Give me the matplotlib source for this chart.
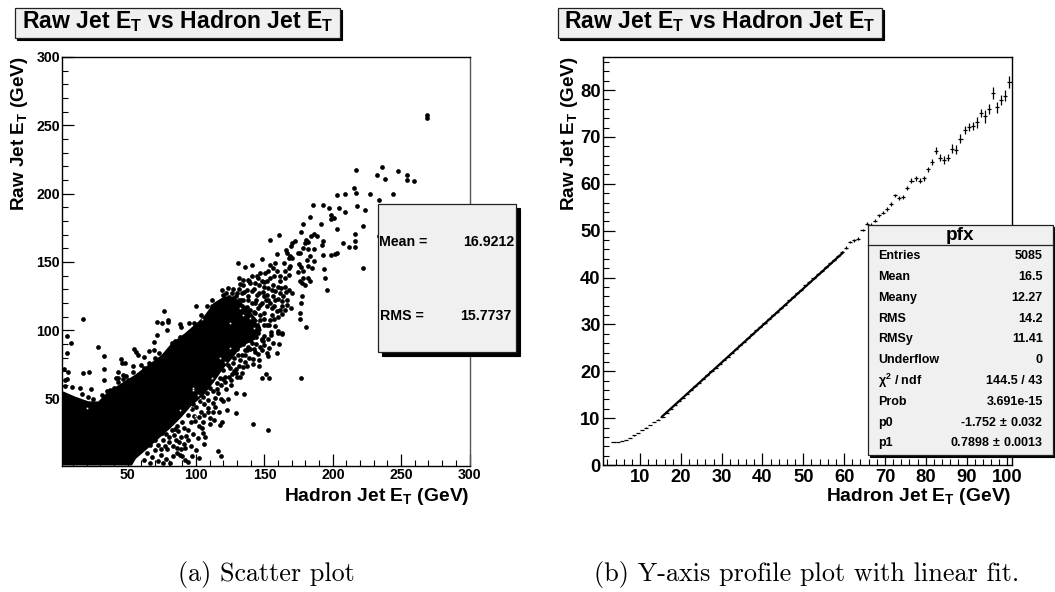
import matplotlib
matplotlib.use("Agg")
import matplotlib.pyplot as plt
from matplotlib.patches import Rectangle

plt.rcParams['font.family'] = ['Liberation Sans', 'DejaVu Sans']
plt.rcParams['font.weight'] = 'bold'
plt.rcParams['mathtext.fontset'] = 'custom'
plt.rcParams['mathtext.rm'] = 'Liberation Sans:bold'
plt.rcParams['mathtext.it'] = 'Liberation Sans:bold:italic'
plt.rcParams['mathtext.bf'] = 'Liberation Sans:bold'
plt.rcParams['mathtext.default'] = 'rm'

title_text = r"Raw Jet E$_{\mathrm{T}}$ vs Hadron Jet E$_{\mathrm{T}}$"
xlabel_text = r"Hadron Jet E$_{\mathrm{T}}$ (GeV)"
ylabel_text = r"Raw Jet E$_{\mathrm{T}}$ (GeV)"

# scatter panel: outline of the solid black mass
mass_outline = [(1.5, 1), (1.5, 50), (2.8, 55.2), (11.3, 51.5), (21.1, 48), (28.4, 47.9), (35.7, 55.2),
                (45.5, 61.3), (55.3, 67.4), (65, 74.7), (74.8, 82), (82.1, 90.6), (91.9, 97.9),
                (101.6, 106.4), (106.5, 111.3), (112.7, 119.9), (121, 125), (128, 124), (136, 118),
                (146, 106), (148, 100), (143, 93), (133, 88), (127, 80), (120, 72), (113, 62), (106, 53),
                (96, 44), (89, 36), (81, 28), (73, 21), (63, 12), (56, 6), (53, 1)]

# small white holes inside the mass
mass_holes = [(104, 108), (125, 105), (134.6, 111), (139.5, 108.9), (144.4, 106.4), (142, 101.6),
              (132, 116), (19.9, 43), (98, 56.4), (101.6, 52.8), (95.5, 43), (88.2, 41.8), (99.2, 36.9),
              (104, 49), (98, 57.6), (111.4, 64.9), (117.5, 79.6), (121.2, 77.1), (124.8, 86.9)]

top_points = [(269, 257.2), (269, 255), (217, 217.2), (236.3, 219.7), (247.5, 216.7), (254.4, 213.6),
              (254.4, 209.9), (259.1, 209.4), (232.6, 213.3), (238.3, 210.9), (215.5, 204), (216.8, 200.6),
              (208.8, 199.9), (202.7, 198.7), (226.9, 199.6), (243.7, 199.9), (233.6, 195.3), (217.8, 191.1),
              (223.2, 187.7), (209.1, 186.5), (204.6, 189.2), (197.2, 189.2), (185.3, 191.8), (193, 191.8),
              (198.5, 184.5), (201.2, 182.3), (198.5, 181.1), (183.4, 183), (191, 177.7), (178.4, 177.4),
              (202.9, 174.3), (222, 176.2), (216.5, 170.4), (216.5, 165.2), (216, 160.9), (211.8, 160.9),
              (207.6, 164), (233.6, 168.7), (222, 145.2)]

cloud_points = [(154, 166.2), (160.5, 169.4), (176.8, 171.8), (185.9, 170.4), (188.3, 168.7), (183.9, 168.7),
                (180.5, 166.2), (181.5, 164.5), (180, 163.8), (192.7, 165), (192.2, 162.6), (172, 165.5),
                (170.2, 163.8), (169.3, 162), (165.8, 158.9), (166.8, 156.5), (168.8, 154.5), (167.6, 152.8),
                (170, 152.8), (159.5, 155.7), (148.5, 152.3), (130.7, 148.9), (135.4, 146), (140.7, 147.9),
                (131.2, 138.6), (132.2, 133.8), (118.8, 129.1), (123.2, 130.8), (120, 125.5), (111.7, 122.1),
                (107.8, 117.9), (111.7, 117.9), (192.7, 155.2), (198.8, 154.8), (201.7, 155.7), (203.4, 156.9),
                (193.7, 144.7), (194.6, 138.2), (195.6, 129.6), (177.6, 125.2), (176.6, 120.1), (175.9, 112.8),
                (176.1, 107.9), (180.5, 102.3), (176.1, 156.5), (178.5, 160.1), (182.2, 159.6), (186.3, 159.6),
                (174.2, 156.5), (183.4, 154), (181, 151.6), (185.9, 150.8), (175.6, 148.4), (176.6, 146),
                (184.6, 145.5), (182.2, 146.7), (174.4, 142.3), (178.5, 143), (183.4, 136.2), (181.5, 138.2),
                (178.5, 138.6), (176.1, 135.7), (179.8, 133.3), (177.6, 134.5), (168.8, 146.7), (164.4, 149.1),
                (167.6, 145.5), (165.1, 143), (157.8, 149.1), (154.1, 147.9), (156.1, 145.5), (159, 143),
                (152.9, 143), (150.5, 141.8), (146.8, 141.8), (144.4, 139.4), (140.7, 139.4), (138.3, 136.9),
                (139.5, 134.5), (143.2, 134.5), (145.6, 138.2), (148, 135.7), (149.3, 132), (151.7, 135.7),
                (154.1, 138.2), (157, 139.4), (161.5, 139.4), (165.1, 138.2), (167.6, 140.6), (161.5, 135.7),
                (160.2, 132), (152.9, 130.8), (155.4, 129.6), (165.1, 132), (167.6, 129.6), (170, 127.2),
                (161.5, 127.2), (163.9, 124.7), (166.3, 122.3), (162.7, 121.1), (157.8, 122.3), (152.9, 122.3),
                (149.3, 124.7), (144.4, 126), (140.7, 128.4), (137.1, 129.6), (134.6, 133.3), (133.4, 127.2),
                (129.7, 127.2), (126.1, 127.2), (127.3, 123.5), (131, 122.3), (134.6, 122.3), (138.3, 122.3),
                (143.2, 119.9), (146.8, 118.6), (151.7, 117.4), (155.4, 116.2), (161.5, 115), (166.3, 118.6),
                (169.3, 116.2), (149.3, 112.5), (155.4, 111.3), (154.1, 107.7), (151.7, 104), (157.8, 102.8),
                (160.2, 99.6), (162.7, 97.9), (145.6, 101.6), (149.3, 104), (139.5, 115), (143.2, 112.5),
                (146.8, 107.7)]

# the crowded part just above the solid mass
dense_points = [(124, 118), (127, 115), (130, 118), (133, 114), (136, 112), (127, 110), (131, 108), (135, 107),
                (139, 110), (142, 113), (145, 116), (148, 120), (151, 122), (154, 120), (157, 118), (159, 114),
                (147, 111), (150, 108), (153, 104), (157, 108), (160, 110), (163, 112), (141, 120), (144, 122),
                (138, 125), (135, 128), (131, 130), (127, 130), (122, 127), (146, 127), (149, 128), (152, 126),
                (156, 125), (160, 123), (163, 118), (165, 115), (166, 128), (158, 129), (162, 131), (156, 133),
                (150, 135), (142, 130), (146, 133), (139, 136), (134, 137), (129, 125), (124, 124), (137, 117),
                (133, 122), (141, 104), (145, 98), (150, 96), (155, 99), (148, 93)]

band_points = [(128, 96), (132, 94), (136, 98), (140, 96), (144, 90), (147, 88), (150, 89), (153, 87), (156, 91),
               (134, 90), (138, 88), (142, 86), (130, 86), (128, 80), (132, 78), (136, 82), (139, 80), (143, 84),
               (146, 74), (137, 74), (131, 74), (125, 72), (128, 70), (121, 66), (124, 66), (118, 60), (121, 62),
               (116, 54), (118, 50), (110, 58), (108, 54), (103, 48), (106, 46), (100, 44), (97, 42), (94, 38),
               (96, 33), (102, 30), (90, 33), (86, 30), (84, 23), (80, 22), (83, 15), (77, 15), (74, 13), (88, 9),
               (92, 14), (96, 15), (100, 12), (98, 24), (101, 21), (91, 17), (86, 14), (110, 36), (114, 44),
               (117, 40), (120, 48), (123, 50), (113, 34), (98, 46), (105, 33)]

lower_points = [(176.5, 65.2), (150.9, 68.1), (148.5, 64.9), (153.1, 64.9), (135.1, 53.5), (129.2, 54.4),
                (125.6, 60), (121.9, 56.9), (122.4, 41.5), (129.2, 39.5), (141.7, 31.5), (152.6, 27.1),
                (118.7, 33.2), (117.5, 30.3), (109.9, 31.2), (116.3, 11.7), (118.2, 8.1), (105.5, 16.9),
                (104.3, 28.1), (106.5, 22.2), (105.3, 24.7), (102.4, 6.8), (97.2, 7.6), (93.8, 3.9),
                (91.9, 4.7), (89.7, 7.6), (85.8, 10), (89, 13), (87.5, 18), (94.3, 19.8), (92.4, 22.7),
                (88.7, 21.7), (94.3, 27.1), (91.1, 28.3), (87, 26.6), (84.6, 27.6), (112.1, 39.8),
                (108.5, 43), (109, 40.5), (106, 38.1), (102.4, 36.4), (98.7, 37.4), (99.2, 33.9),
                (103.6, 39.8), (112.6, 46.6), (113.8, 50.3), (109, 49), (105.3, 51.5), (112.6, 55.2),
                (115, 56.9), (119.9, 64.2), (117.5, 64.9), (115, 61.7), (126, 68.1), (125.6, 63.7),
                (129.7, 65.7), (132.1, 65.7), (129, 69), (129.2, 71.5), (133.4, 69), (134.1, 73),
                (141.9, 75.4), (135.8, 77.1), (141.9, 78.8), (146, 78.3), (145.1, 82.5), (151.7, 83.7),
                (152.4, 80.8), (148, 85.2), (159, 83.2), (160.7, 89.6), (152.9, 93.7), (154.6, 96.6),
                (160.2, 97.9), (162.6, 97.1), (148, 93.5), (149.2, 92.2), (139.5, 93), (140.7, 91),
                (143.9, 94.9), (132.1, 89.3), (137, 85.7), (130.9, 82), (126, 84.4), (124.8, 80.8),
                (133.4, 82), (123.6, 74.7), (135.8, 85.7), (139.5, 86.1), (127.3, 75.9), (119.9, 71),
                (117.5, 73.5), (62, 5), (64, 10), (66, 3), (68, 7), (70, 12), (72, 4), (72, 16), (74, 9),
                (76, 3), (76, 20), (78, 6), (79, 13), (80, 18), (81, 3), (83, 8), (75, 25), (78, 24),
                (82, 27), (85, 20), (70, 20), (66, 16)]

upper_left_points = [(99.9, 117.9), (76.3, 114.2), (17.4, 108.4), (5.7, 96), (8.7, 91), (5.7, 83.7), (28.4, 87.4),
                     (32.3, 81), (32.3, 71.3), (32.3, 63.5), (17, 68.4), (21.8, 69.8), (23, 57.2), (71.4, 106),
                     (75, 105.2), (79.2, 105.7), (79.7, 107.7), (78.7, 99.9), (71.4, 96.2), (69.4, 91.3),
                     (88.4, 104.7), (88.9, 102.3), (95, 105.2), (98.7, 105.2), (103.6, 111.3), (54.8, 86.2),
                     (56.2, 84), (57.2, 81.6), (44.8, 78.9), (45.5, 75.9), (47.9, 75.9), (53.8, 74), (53.8, 69.1),
                     (42.6, 69.1), (41.4, 65.4), (43, 65.4), (46.7, 67.4), (48.4, 66.7), (46.7, 64.5), (49.9, 63.7),
                     (65.5, 84.5), (69.2, 85.7), (73.1, 83.7), (62.1, 80.1), (59.7, 74.2), (62.1, 72.3), (65.8, 75.9),
                     (69.9, 79.6), (82.1, 90.6), (84.5, 91.8), (88.2, 95), (3.5, 71.8), (6, 69.1), (4, 63.7),
                     (5.5, 64.5), (4, 59.3), (9.4, 58.1), (14.8, 57.4), (16.2, 53.5), (21.1, 51), (24.8, 49.8),
                     (30.9, 52.8), (34.5, 55.2), (37, 55.9), (40.1, 57.6), (43, 61.8)]

# profile panel
profile_x = [3.5, 4.5, 5.5, 6.5, 7.5, 8.5, 9.5, 10.5, 11.5, 12.5, 13.5, 14.5, 15.5,
             16.5, 17.5, 18.5, 19.5, 20.5, 21.5, 22.5, 23.5, 24.5, 25.5, 26.5, 27.5, 28.5, 29.5, 30.5,
             31.5, 32.5, 33.5, 34.5, 35.5, 36.5, 37.5, 38.5, 39.5, 40.5, 41.5, 42.5, 43.5, 44.5, 45.5,
             46.5, 47.5, 48.5, 49.5, 50.5, 51.5, 52.5, 53.5, 54.5, 55.5, 56.5, 57.5, 58.5, 59.5, 60.5,
             61.5, 62.5, 63.5, 64.5, 65.5, 66.5, 67.5, 68.5, 69.5, 70.5, 71.5, 72.5, 73.5, 74.5, 75.5,
             76.5, 77.5, 78.5, 79.5, 80.5, 81.5, 82.5, 83.5, 84.5, 85.5, 86.5, 87.5, 88.5, 89.5, 90.5,
             91.5, 92.5, 93.5, 94.5, 95.5, 96.5, 97.5, 98.5, 99.5, 100.5]
profile_y = [4.84, 4.9, 5.1, 5.4, 5.7, 6.3, 6.9, 7.4, 8.0, 8.5, 9.2, 9.7, 10.3,
             11.2, 12.0, 12.8, 13.6, 14.4, 15.2, 16.0, 16.8, 17.6, 18.4, 19.1, 20.0, 20.8, 21.6, 22.4,
             23.1, 24.0, 24.8, 25.6, 26.3, 27.1, 27.9, 28.7, 29.5, 30.3, 31.2, 31.9, 32.6, 33.4, 34.2,
             35.1, 35.8, 36.7, 37.4, 38.3, 39.0, 39.8, 40.7, 41.4, 42.2, 43.0, 43.8, 44.6, 45.5, 46.4,
             47.6, 47.9, 48.3, 50.1, 51.5, 51.3, 52.1, 53.3, 53.8, 54.6, 55.7, 57.5, 56.9, 57.2, 59.1,
             60.7, 61.2, 60.7, 61.2, 63.1, 64.6, 67.0, 65.6, 65.1, 65.6, 67.5, 67.3, 69.6, 71.5, 72.2,
             72.4, 73.1, 75.1, 74.4, 75.9, 79.3, 76.3, 77.9, 78.8, 81.65]
profile_err = [0.03, 0.03, 0.03, 0.03, 0.03, 0.03, 0.03, 0.03, 0.03, 0.03, 0.03, 0.03, 0.04,
               0.05, 0.05, 0.05, 0.05, 0.06, 0.06, 0.06, 0.06, 0.07, 0.08, 0.08, 0.08, 0.08, 0.09, 0.09,
               0.09, 0.1, 0.1, 0.1, 0.1, 0.1, 0.11, 0.12, 0.12, 0.12, 0.13, 0.13, 0.14, 0.14, 0.15,
               0.15, 0.16, 0.17, 0.17, 0.18, 0.18, 0.19, 0.2, 0.2, 0.2, 0.2, 0.2, 0.22, 0.22, 0.25,
               0.25, 0.25, 0.25, 0.28, 0.3, 0.3, 0.3, 0.3, 0.35, 0.35, 0.35, 0.4, 0.4, 0.45, 0.5,
               0.55, 0.5, 0.55, 0.55, 0.55, 0.6, 0.75, 0.7, 0.8, 0.8, 1.0, 0.9, 1.0, 0.9, 0.85,
               0.85, 1.1, 0.85, 1.4, 1.05, 1.25, 1.2, 1.1, 1.2, 1.28]
fit_x = [15.4, 59.7]
fit_y = [10.35, 45.3]

stats_names = ["Entries", "Mean", "Meany", "RMS", "RMSy", "Underflow", r"$\chi^{2}$ / ndf", "Prob", "p0", "p1"]
stats_values = ["5085", "16.5", "12.27", "14.2", "11.41", "0", "144.5 / 43", "3.691e-15",
                r"-1.752$\,\pm\,$0.032", r"0.7898$\,\pm\,$0.0013"]
stats_rows = [255.7, 276.7, 298, 318.7, 339.3, 359.7, 381, 402, 422.7, 442.7]


def unzip(points):
    return [p[0] for p in points], [p[1] for p in points]


def panel(left, right, top, bottom):
    return fig.add_axes([left / 1055, 1 - bottom / 592, (right - left) / 1055, (bottom - top) / 592])


def style_axis(ax, xmajor, xminor, ymajor, yminor, size):
    ax.set_xticks(xmajor)
    ax.set_xticks(xminor, minor=True)
    ax.set_yticks(ymajor)
    ax.set_yticks(yminor, minor=True)
    ax.tick_params(which='major', direction='in', length=8.6, width=0.9, labelsize=size)
    ax.tick_params(which='minor', direction='in', length=4.3, width=0.8)
    for spine in ax.spines.values():
        spine.set_linewidth(1.0)


def box(x0, y0, x1, y1, shadow):
    over.add_patch(Rectangle((x0 + shadow, y0 + shadow), x1 - x0, y1 - y0, fc='black', ec='black', lw=0.8))
    over.add_patch(Rectangle((x0, y0), x1 - x0, y1 - y0, fc='#f0f0f0', ec='#222222', lw=0.9))


fig = plt.figure(figsize=(10.55, 5.92), dpi=100)

# left: scatter plot
ax1 = panel(61.5, 469.5, 57, 465.5)
ax1.fill(*unzip(mass_outline), color='black', lw=0)
for group in [top_points, cloud_points, dense_points, band_points, lower_points, upper_left_points]:
    px, py = unzip(group)
    ax1.plot(px, py, 'o', color='black', ms=3.4, mew=0)
hole_x, hole_y = unzip(mass_holes)
ax1.plot(hole_x, hole_y, 's', color='white', ms=1.2, mew=0)
ax1.set_xlim(1.5, 300)
ax1.set_ylim(1, 300)
style_axis(ax1, range(50, 301, 50), range(10, 301, 10), range(50, 301, 50), range(10, 301, 10), 10.2)
ax1.spines['right'].set_color('#555555')
ax1.tick_params(axis='x', pad=2)
ax1.tick_params(axis='y', pad=1)

# right: profile with fit
ax2 = panel(603.3, 1011.5, 57, 465)
ax2.errorbar(profile_x, profile_y, xerr=0.5, yerr=profile_err, fmt='none', ecolor='black', elinewidth=0.9)
ax2.plot(fit_x, fit_y, color='black', lw=1.6)
ax2.set_xlim(1, 101)
ax2.set_ylim(0, 87.05)
style_axis(ax2, range(10, 101, 10), range(2, 101, 2), range(0, 81, 10), range(0, 87, 2), 13.2)
ax2.tick_params(axis='x', pad=3)
ax2.tick_params(axis='y', pad=2)

# overlay in image pixels for the boxes and free text
over = fig.add_axes([0, 0, 1, 1], zorder=10)
over.set_xlim(0, 1055)
over.set_ylim(592, 0)
over.axis('off')

box(15.2, 8, 340.4, 38.3, 2)
over.text(22, 21, title_text, fontsize=16.6, ha='left', va='center')
box(557.5, 8, 881.5, 38.3, 2)
over.text(564, 21, title_text, fontsize=16.6, ha='left', va='center')

over.text(469.5, 496.7, xlabel_text, fontsize=13.9, ha='right', va='center')
over.text(1011.5, 496.7, xlabel_text, fontsize=13.9, ha='right', va='center')
over.text(20, 57, ylabel_text, fontsize=13.6, rotation=90, ha='center', va='top')
over.text(570, 57, ylabel_text, fontsize=13.6, rotation=90, ha='center', va='top')

box(378, 204.3, 516, 352.3, 4)
over.text(379, 242.3, "Mean =", fontsize=10.2, ha='left', va='center')
over.text(514, 242.3, "16.9212", fontsize=10.2, ha='right', va='center')
over.text(380, 316, "RMS =", fontsize=10.2, ha='left', va='center')
over.text(511, 316, "15.7737", fontsize=10.2, ha='right', va='center')

box(868.3, 225, 1053, 455, 2)
over.plot([868.3, 1053], [245, 245], color='#222222', lw=0.9)
over.text(960, 236, "pfx", fontsize=13.6, ha='center', va='center')
for name, value, row in zip(stats_names, stats_values, stats_rows):
    over.text(878.3, row, name, fontsize=9, ha='left', va='center')
    over.text(1042.7, row, value, fontsize=9, ha='right', va='center')

over.text(266, 574, "(a) Scatter plot", family='cmr10', weight='normal', fontsize=18.8, ha='center', va='center')
over.text(807, 574, "(b) Y-axis profile plot with linear fit.", family='cmr10', weight='normal', fontsize=18.9,
          ha='center', va='center')

fig.savefig("out.png", dpi=100)
